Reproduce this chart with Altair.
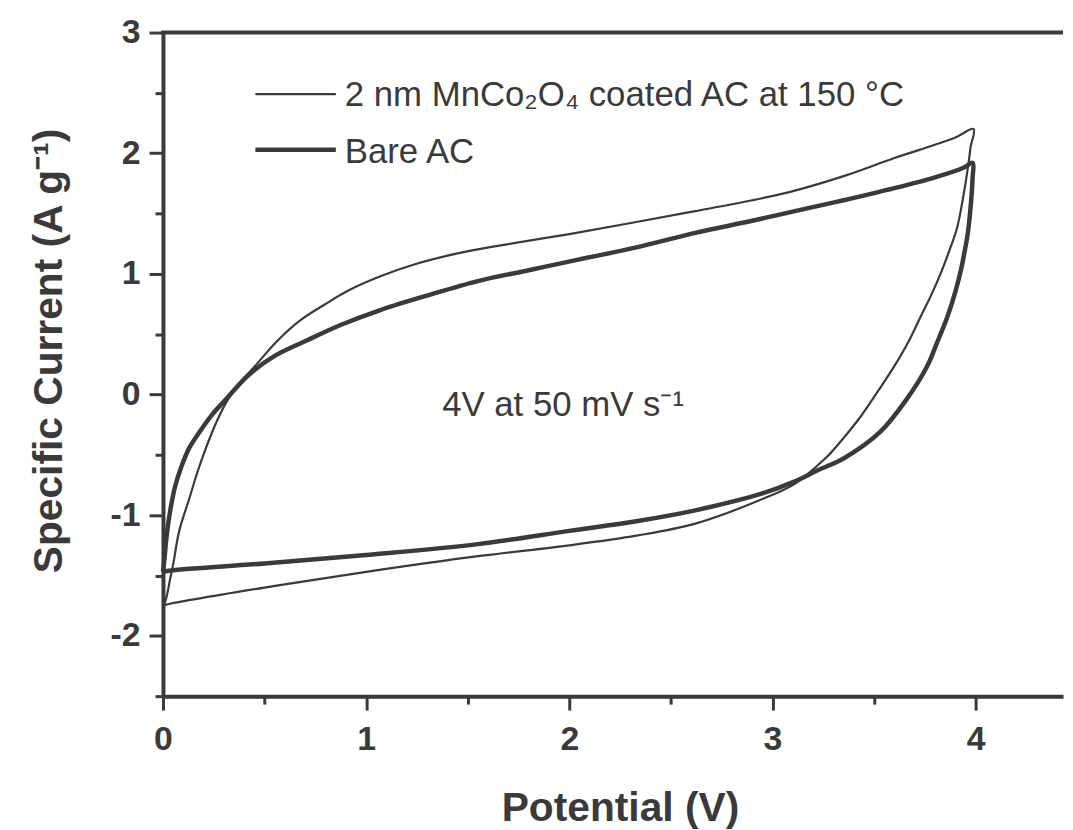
import altair as alt
import pandas as pd

# ---- data (CV loops: anodic sweep, then cathodic sweep) ----
bare_x = [0.000, 0.008, 0.015, 0.025, 0.04, 0.06, 0.09, 0.13, 0.18, 0.24, 0.31, 0.42, 0.55, 0.71,
          0.88, 1.07, 1.30, 1.55, 1.80, 2.05, 2.33, 2.62, 2.90, 3.11, 3.35, 3.60, 3.80, 3.94, 3.985,
          3.985, 3.975, 3.96, 3.945, 3.93, 3.90, 3.86, 3.81, 3.76, 3.66, 3.53, 3.35, 3.22, 3.11,
          2.95, 2.62, 2.33, 2.00, 1.55, 1.00, 0.50, 0.03, 0.00]
bare_y = [-1.47, -1.35, -1.22, -1.08, -0.92, -0.76, -0.60, -0.44, -0.31, -0.17, -0.04, 0.16, 0.32, 0.45,
          0.58, 0.70, 0.82, 0.94, 1.03, 1.12, 1.22, 1.34, 1.44, 1.52, 1.61, 1.71, 1.80, 1.88, 1.92,
          1.80, 1.55, 1.32, 1.18, 1.05, 0.85, 0.64, 0.43, 0.23, -0.04, -0.31, -0.53, -0.63, -0.72,
          -0.82, -0.96, -1.05, -1.13, -1.24, -1.33, -1.40, -1.46, -1.47]

coated_x = [0.00, 0.01, 0.02, 0.035, 0.05, 0.08, 0.13, 0.17, 0.21, 0.26, 0.32, 0.38, 0.45, 0.56, 0.68,
            0.80, 0.91, 1.07, 1.24, 1.45, 1.64, 2.00, 2.33, 2.62, 2.90, 3.11, 3.35, 3.60, 3.80, 3.90, 3.99,
            3.975, 3.966, 3.94, 3.909, 3.87, 3.827, 3.78, 3.729, 3.67, 3.599, 3.52, 3.436, 3.35, 3.273,
            3.22, 3.11, 2.96, 2.62, 2.33, 2.00, 1.55, 1.00, 0.50, 0.02, 0.00]
coated_y = [-1.75, -1.72, -1.66, -1.53, -1.41, -1.13, -0.86, -0.64, -0.45, -0.24, -0.04, 0.10, 0.23, 0.44, 0.62,
            0.75, 0.86, 0.98, 1.08, 1.17, 1.23, 1.33, 1.43, 1.52, 1.61, 1.69, 1.81, 1.96, 2.07, 2.13, 2.20,
            2.05, 1.93, 1.65, 1.385, 1.19, 1.00, 0.82, 0.645, 0.44, 0.233, 0.03, -0.178, -0.36, -0.508,
            -0.59, -0.74, -0.86, -1.07, -1.17, -1.25, -1.34, -1.47, -1.60, -1.74, -1.75]

series_names = ["2 nm MnCo\u2082O\u2084 coated AC at 150 \u00b0C", "Bare AC"]
x_tick_values = [0, 0.5, 1, 1.5, 2, 2.5, 3, 3.5, 4]
y_tick_values = [-2.5, -2, -1.5, -1, -0.5, 0, 0.5, 1, 1.5, 2, 2.5, 3]
x_domain = [0, 4.43]
y_domain = [-2.5, 3]
annotation_text = ["4V at 50 mV s\u207b\u00b9"]
annotation_x = [1.374]
annotation_y = [-0.18]

# ---- style ----
INK = "#3a3a3a"
FONT = "Liberation Sans"
W, H = 906, 668

coated_df = pd.DataFrame({"x": coated_x, "y": coated_y, "i": range(len(coated_x))})
bare_df = pd.DataFrame({"x": bare_x, "y": bare_y, "i": range(len(bare_x))})
ann_df = pd.DataFrame({"x": annotation_x, "y": annotation_y, "t": annotation_text})

major = "datum.value % 1 === 0"

x_enc = alt.X(
    "x:Q",
    scale=alt.Scale(domain=x_domain, nice=False, zero=False),
    axis=alt.Axis(
        values=x_tick_values,
        labelExpr=f"{major} ? '' + datum.value : ''",
        tickSize={"condition": {"test": major, "value": 14}, "value": 8},
        tickWidth=3, tickColor=INK, domainColor=INK, domainWidth=4,
        labelFont=FONT, labelFontSize=34, labelFontWeight="bold", labelColor=INK,
        labelPadding=13, labelFlush=False, grid=False,
        title="Potential (V)", titleFont=FONT, titleFontSize=41, titleFontWeight="bold",
        titleColor=INK, titleX=460, titleY=125, titleBaseline="alphabetic", titleAnchor="middle",
    ),
)
y_enc = alt.Y(
    "y:Q",
    scale=alt.Scale(domain=y_domain, nice=False, zero=False),
    axis=alt.Axis(
        values=y_tick_values,
        labelExpr=f"{major} ? '' + datum.value : ''",
        tickSize={"condition": {"test": major, "value": 14}, "value": 8},
        tickWidth=3, tickColor=INK, domainColor=INK, domainWidth=4,
        labelFont=FONT, labelFontSize=34, labelFontWeight="bold", labelColor=INK,
        labelPadding=9, grid=False,
        title="Specific Current (A g\u207b\u00b9)", titleFont=FONT, titleFontSize=41,
        titleFontWeight="bold", titleColor=INK, titleX=-102, titleY=320,
        titleBaseline="alphabetic", titleAngle=270, titleAnchor="middle",
    ),
)

coated = alt.Chart(coated_df).mark_line(
    color=INK, strokeWidth=2.2, interpolate="catmull-rom"
).encode(x=x_enc, y=y_enc, order=alt.Order("i:Q"))

bare = alt.Chart(bare_df).mark_line(
    color=INK, strokeWidth=4.5, interpolate="catmull-rom"
).encode(x=x_enc, y=y_enc, order=alt.Order("i:Q"))

top_border = alt.Chart(alt.Data(values=[{}])).mark_rule(color=INK, strokeWidth=4).encode(
    x=alt.value(-2), x2=alt.value(W), y=alt.value(0)
)

annotation = alt.Chart(ann_df).mark_text(
    font=FONT, fontSize=35, color=INK, align="left", baseline="alphabetic"
).encode(x="x:Q", y="y:Q", text="t:N")

# hand-placed legend (line samples + labels)
leg_rows = [
    {"name": series_names[0], "ly": 62, "ty": 74},
    {"name": series_names[1], "ly": 118, "ty": 131},
]
legend_layers = []
for row, sw in zip(leg_rows, [2.2, 4.5]):
    d = alt.Data(values=[row])
    legend_layers.append(
        alt.Chart(d).mark_rule(color=INK, strokeWidth=sw).encode(
            x=alt.value(93), x2=alt.value(174), y=alt.value(row["ly"])
        )
    )
    legend_layers.append(
        alt.Chart(d).mark_text(font=FONT, fontSize=35, color=INK, align="left",
                               baseline="alphabetic").encode(
            x=alt.value(183), y=alt.value(row["ty"]), text="name:N"
        )
    )

chart = alt.layer(coated, bare, top_border, annotation, *legend_layers).properties(
    width=W, height=H,
    autosize=alt.AutoSizeParams(type="none"),
    padding={"left": 156, "top": 22, "right": 2, "bottom": 132},
    background="white",
).configure_view(stroke=None)

chart.save("out.html", embed_options={"renderer": "svg", "actions": False})
